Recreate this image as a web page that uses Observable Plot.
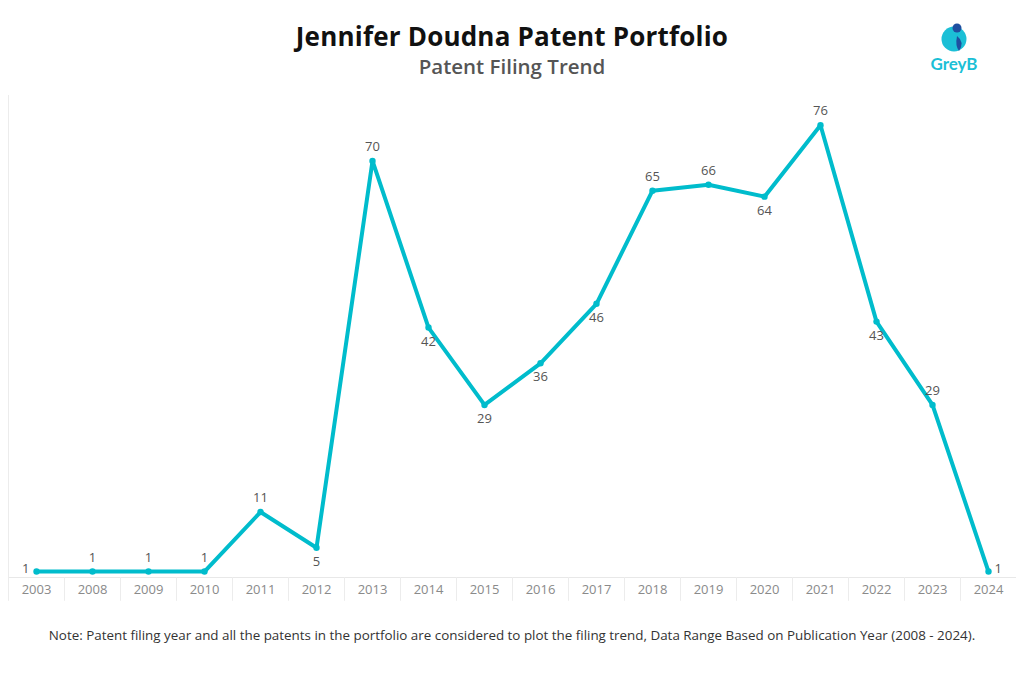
<!DOCTYPE html>
<html>
<head>
<meta charset="utf-8">
<script src="https://cdn.jsdelivr.net/npm/d3@7"></script>
<script src="https://cdn.jsdelivr.net/npm/@observablehq/plot@0.6"></script>
<style>
  body { margin: 0; background: #fff; width: 1024px; height: 683px; position: relative; overflow: hidden; font-family: "Open Sans", Lato, sans-serif; }
  #title { position: absolute; top: 18px; left: 0; width: 1024px; text-align: center; font-size: 26px; font-weight: 700; color: #111; letter-spacing: 0.2px; }
  #subtitle { position: absolute; top: 52px; left: 0; width: 1024px; text-align: center; font-size: 20.5px; font-weight: 600; color: #555; }
  #chart { position: absolute; top: 90px; left: 0; }
  #note { position: absolute; top: 626px; left: 0; width: 1024px; text-align: center; font-size: 13.4px; color: #333; }
  #logo { position: absolute; top: 20px; left: 924px; }
</style>
</head>
<body>
<div id="title">Jennifer Doudna Patent Portfolio</div>
<div id="subtitle">Patent Filing Trend</div>
<div id="logo">
  <svg width="60" height="56" viewBox="0 0 60 56">
    <circle cx="30" cy="19" r="12.5" fill="#1bbfd6"/>
    <circle cx="33" cy="8" r="4.5" fill="#1f4fa0"/>
    <path d="M33 16 Q41 22 35 31 Q31 26 33 16 Z" fill="#1f4fa0"/>
    <text x="30" y="50" text-anchor="middle" font-family="Lato, 'Open Sans', sans-serif" font-weight="700" font-size="17" fill="#1bbfd6">GreyB</text>
  </svg>
</div>
<div id="chart"></div>
<div id="note">Note: Patent filing year and all the patents in the portfolio are considered to plot the filing trend, Data Range Based on Publication Year (2008 - 2024).</div>
<script>
const years = ["2003","2008","2009","2010","2011","2012","2013","2014","2015","2016","2017","2018","2019","2020","2021","2022","2023","2024"];
const filings = [1,1,1,1,11,5,70,42,29,36,46,65,66,64,76,43,29,1];

const data = years.map((y, i) => ({year: y, count: filings[i], i}));

function placement(i) {
  if (i === 0) return "left";
  if (i === filings.length - 1) return "right";
  const prev = filings[i - 1], next = filings[i + 1];
  if (filings[i] === prev || filings[i] === next) return "above";
  return filings[i] >= (prev + next) / 2 ? "above" : "below";
}
data.forEach(d => d.pos = placement(d.i));

const W = 1024, H = 530, ML = 8, MR = 8, MT = 5, MB = 43;
const bandHalf = (W - ML - MR) / years.length / 2;
const teal = "#00bccc";

const chart = Plot.plot({
  width: W,
  height: H,
  marginLeft: ML,
  marginRight: MR,
  marginTop: MT,
  marginBottom: MB,
  style: {fontFamily: "'Open Sans', Lato, sans-serif", background: "#fff"},
  x: {type: "band", domain: years, padding: 0, label: null, tickSize: 0, tickPadding: 7},
  y: {domain: [0, 81], axis: null},
  marks: [
    Plot.ruleY([0], {stroke: "#e8e8e8"}),
    Plot.ruleX(years.slice(0, 1), {x: d => d, dx: -bandHalf, y1: 0, y2: 81, stroke: "#ececec"}),
    Plot.ruleX(years, {x: d => d, dx: -bandHalf, y1: 0, y2: -4, clip: false, stroke: "#ececec"}),
    Plot.axisX({tickSize: 0, tickPadding: 7, fontSize: 13, fill: "#8a8a8a", label: null}),
    Plot.line(data, {x: "year", y: "count", stroke: teal, strokeWidth: 4, strokeLinejoin: "round"}),
    Plot.dot(data, {x: "year", y: "count", fill: teal, r: 3.2}),
    Plot.text(data.filter(d => d.pos === "above"), {x: "year", y: "count", text: "count", dy: -14, fontSize: 13, fill: "#555"}),
    Plot.text(data.filter(d => d.pos === "below"), {x: "year", y: "count", text: "count", dy: 14, fontSize: 13, fill: "#555"}),
    Plot.text(data.filter(d => d.pos === "left"), {x: "year", y: "count", text: "count", dx: -7, dy: -3, textAnchor: "end", fontSize: 13, fill: "#555"}),
    Plot.text(data.filter(d => d.pos === "right"), {x: "year", y: "count", text: "count", dx: 6, dy: -3, textAnchor: "start", fontSize: 13, fill: "#555"})
  ]
});
document.getElementById("chart").appendChild(chart);
</script>
</body>
</html>
